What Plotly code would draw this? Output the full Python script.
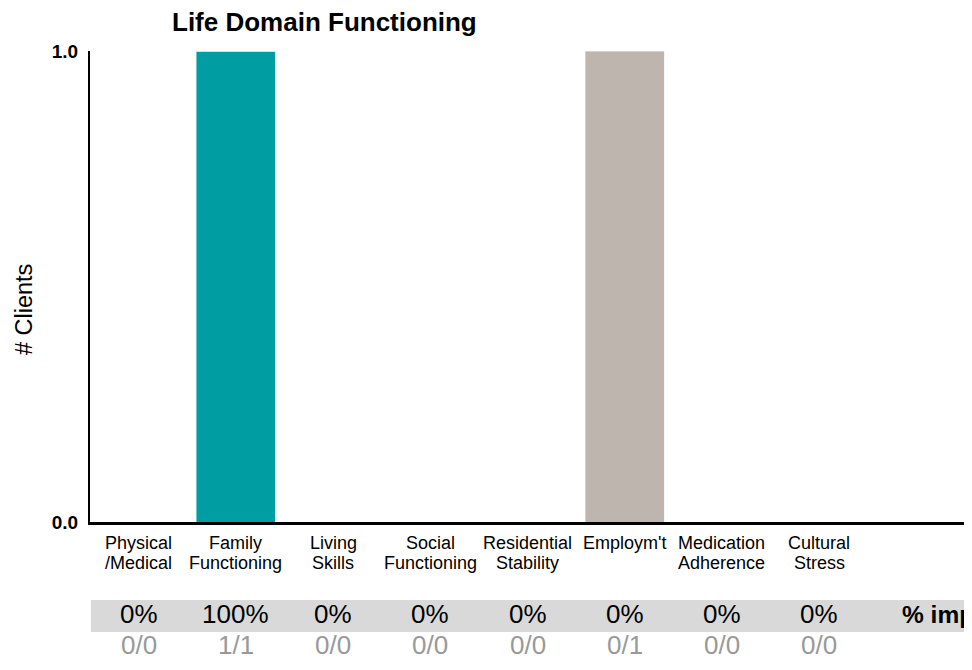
import plotly.graph_objects as go

# domains (two-line labels) and client counts
line1 = ['Physical', 'Family', 'Living', 'Social', 'Residential', "Employm't", 'Medication', 'Cultural']
line2 = ['/Medical', 'Functioning', 'Skills', 'Functioning', 'Stability', '', 'Adherence', 'Stress']
improved = [0, 1, 0, 0, 0, 0, 0, 0]
not_improved = [0, 0, 0, 0, 0, 1, 0, 0]
pct_labels = ['0%', '100%', '0%', '0%', '0%', '0%', '0%', '0%']
frac_labels = ['0/0', '1/1', '0/0', '0/0', '0/0', '0/1', '0/0', '0/0']

FONT = 'Liberation Sans, Arial, sans-serif'
xs = list(range(len(line1)))

fig = go.Figure()
fig.add_trace(go.Bar(x=xs, y=improved, marker_color='#009DA2', name='Improved'))
fig.add_trace(go.Bar(x=xs, y=not_improved, marker_color='#BEB5AF', name='Not improved'))

ann = []
for i in xs:
    ann.append(dict(x=i, y=-0.045, xref='x', yref='paper', text=line1[i], showarrow=False,
                    yanchor='middle', font=dict(size=18, color='black')))
    ann.append(dict(x=i, y=-0.087, xref='x', yref='paper', text=line2[i], showarrow=False,
                    yanchor='middle', font=dict(size=18, color='black')))
    ann.append(dict(x=i, y=-0.196, xref='x', yref='paper', text=pct_labels[i], showarrow=False,
                    yanchor='middle', font=dict(size=26, color='black')))
    ann.append(dict(x=i, y=-0.262, xref='x', yref='paper', text=frac_labels[i], showarrow=False,
                    yanchor='middle', font=dict(size=26, color='#999999')))
ann.append(dict(x=8, y=-0.196, xref='x', yref='paper', text='<b>% improved</b>', showarrow=False,
                xanchor='left', xshift=-16, yanchor='middle', font=dict(size=24.5, color='black')))
ann.append(dict(x=-0.0754, y=0.45, xref='paper', yref='paper', text='# Clients', showarrow=False,
                textangle=-90, xanchor='center', yanchor='middle', font=dict(size=23.5, color='black')))

fig.update_layout(
    width=972, height=670,
    margin=dict(l=82, r=15, t=43, b=156),
    barmode='stack', bargap=0.19,
    plot_bgcolor='white', paper_bgcolor='white',
    showlegend=False,
    font=dict(family=FONT, color='black'),
    title=dict(text='<b>Life Domain Functioning</b>', x=164 / 972, xanchor='left', xref='container',
               y=1 - 14 / 670, yanchor='middle', font=dict(size=26, color='black')),
    xaxis=dict(range=[-0.5, 8.5], showticklabels=False, ticks='', showgrid=False, zeroline=False,
               showline=True, linecolor='black', linewidth=3),
    yaxis=dict(range=[0, 1], tickvals=[0, 1], ticktext=['<b>0.0</b>', '<b>1.0</b>'], ticks='',
               showgrid=False, zeroline=False, showline=True, linecolor='black', linewidth=2,
               tickfont=dict(size=19, color='black'), ticklabelstandoff=6),
    annotations=ann,
    shapes=[dict(type='rect', xref='paper', yref='paper', x0=0.001, x1=1.2, y0=-0.2335, y1=-0.1656,
                 fillcolor='#D9D9D9', line=dict(width=0), layer='below')],
)

fig.write_html("out.html")
